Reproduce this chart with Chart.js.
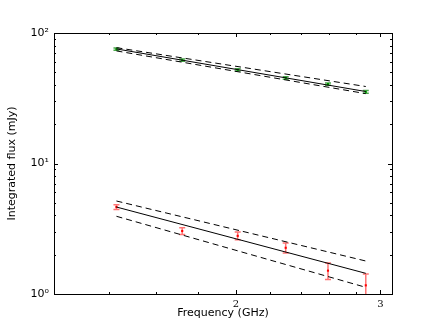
<!DOCTYPE html>
<html>
<head>
<meta charset="utf-8">
<script src="https://cdn.jsdelivr.net/npm/chart.js@4/dist/chart.umd.min.js"></script>
<style>
  html, body { margin: 0; padding: 0; background: #fff; }
  #wrap { width: 436px; height: 327px; }
</style>
</head>
<body>
<div id="wrap"><canvas id="myChart" width="436" height="327"></canvas></div>
<script>
// frequencies (GHz)
var freqs = [1.43, 1.72, 2.01, 2.30, 2.59, 2.88];

// upper source (green)
var fluxA = [75.1, 61.9, 52.2, 45.3, 40.6, 35.4];
var errA = [1.5, 1.2, 1.0, 1.0, 0.8, 0.8];
var fitA = [75.5, 35.6];
var fitAHigh = [77.2, 38.9];
var fitALow = [72.9, 34.3];

// lower source (red)
var fluxB = [4.64, 3.04, 2.79, 2.26, 1.51, 1.165];
var errB = [0.2, 0.18, 0.19, 0.2, 0.22, 0.26];
var fitB = [4.64, 1.44];
var fitBHigh = [5.16, 1.79];
var fitBLow = [3.94, 1.125];

var fitX = [1.43, 2.88];

// ticks
var xMajor = [2, 3];
var xMinor = [1.4, 1.6, 1.8, 2.2, 2.4, 2.6, 2.8];
var yMajor = [1, 10, 100];
var yMinor = [2, 3, 4, 5, 6, 7, 8, 9, 20, 30, 40, 50, 60, 70, 80, 90];
var yLabels = {1: '10\u2070', 10: '10\u00b9', 100: '10\u00b2'};

function pts(xs, ys) {
    var out = [];
    for (var i = 0; i < xs.length; i++) {
        out.push({x: xs[i], y: ys[i]});
    }
    return out;
}

function fitLine(ys, dashed) {
    return {
        data: pts(fitX, ys),
        showLine: true,
        borderColor: '#000',
        borderWidth: 1,
        borderDash: dashed ? [6, 4] : [],
        pointRadius: 0,
        fill: false
    };
}

// error bars + inward ticks + box, all from the chart scales
var extras = {
    id: 'extras',
    beforeDatasetsDraw: function (chart) {
        var ctx = chart.ctx, a = chart.chartArea;
        var xs = chart.scales.x, ys = chart.scales.y;
        ctx.save();
        ctx.beginPath();
        ctx.rect(a.left, a.top, a.right - a.left, a.bottom - a.top);
        ctx.clip();
        var sets = [[fluxA, errA, 'rgba(0,128,0,0.7)'], [fluxB, errB, 'rgba(255,0,0,0.55)']];
        sets.forEach(function (s) {
            ctx.strokeStyle = s[2];
            ctx.lineWidth = 1.5;
            for (var i = 0; i < freqs.length; i++) {
                var px = xs.getPixelForValue(freqs[i]);
                var top = ys.getPixelForValue(s[0][i] + s[1][i]);
                var bot = ys.getPixelForValue(s[0][i] - s[1][i]);
                ctx.beginPath();
                ctx.moveTo(px, top); ctx.lineTo(px, bot);
                ctx.moveTo(px - 3, top); ctx.lineTo(px + 3, top);
                ctx.moveTo(px - 3, bot); ctx.lineTo(px + 3, bot);
                ctx.stroke();
            }
        });
        ctx.restore();
    },
    afterDraw: function (chart) {
        var ctx = chart.ctx, a = chart.chartArea;
        var xs = chart.scales.x, ys = chart.scales.y;
        ctx.save();
        ctx.strokeStyle = '#000';
        ctx.lineWidth = 1;
        ctx.beginPath();
        xMajor.concat(xMinor).forEach(function (v) {
            var len = xMajor.indexOf(v) >= 0 ? 4 : 2;
            var px = Math.round(xs.getPixelForValue(v)) + 0.5;
            ctx.moveTo(px, a.bottom); ctx.lineTo(px, a.bottom - len);
            ctx.moveTo(px, a.top); ctx.lineTo(px, a.top + len);
        });
        yMajor.concat(yMinor).forEach(function (v) {
            var len = yMajor.indexOf(v) >= 0 ? 4 : 2;
            var py = Math.round(ys.getPixelForValue(v)) + 0.5;
            ctx.moveTo(a.left, py); ctx.lineTo(a.left + len, py);
            ctx.moveTo(a.right, py); ctx.lineTo(a.right - len, py);
        });
        ctx.stroke();
        ctx.strokeRect(Math.round(a.left) + 0.5, Math.round(a.top) + 0.5,
            Math.round(a.right - a.left), Math.round(a.bottom - a.top));
        ctx.restore();
    }
};

var ctx = document.getElementById('myChart');
var myChart = new Chart(ctx, {
    type: 'scatter',
    data: {
        datasets: [
            fitLine(fitA, false),
            fitLine(fitAHigh, true),
            fitLine(fitALow, true),
            fitLine(fitB, false),
            fitLine(fitBHigh, true),
            fitLine(fitBLow, true),
            {
                data: pts(freqs, fluxA),
                pointStyle: 'rect',
                pointRadius: 1.5,
                backgroundColor: '#00a000',
                borderColor: '#00a000',
                borderWidth: 0
            },
            {
                data: pts(freqs, fluxB),
                pointStyle: 'rect',
                pointRadius: 1.5,
                backgroundColor: '#ff0000',
                borderColor: '#ff0000',
                borderWidth: 0
            }
        ]
    },
    options: {
        responsive: false,
        animation: false,
        layout: { padding: { top: 33, right: 44, left: 0, bottom: 0 } },
        plugins: { legend: { display: false }, tooltip: { enabled: false } },
        scales: {
            x: {
                type: 'logarithmic',
                min: 1.2,
                max: 3.1,
                afterBuildTicks: function (scale) {
                    scale.ticks = xMajor.map(function (v) { return {value: v}; });
                },
                afterFit: function (scale) { scale.height = 33; },
                grid: { display: false, drawTicks: false },
                border: { display: false },
                ticks: {
                    autoSkip: false,
                    maxRotation: 0,
                    padding: 4,
                    color: '#000',
                    font: { family: 'DejaVu Serif', size: 10 },
                    callback: function (v) { return String(v); }
                },
                title: {
                    display: true,
                    text: 'Frequency (GHz)',
                    color: '#000',
                    font: { family: 'DejaVu Sans', size: 11 },
                    padding: { top: 0, bottom: 7 }
                }
            },
            y: {
                type: 'logarithmic',
                min: 1,
                max: 100,
                afterBuildTicks: function (scale) {
                    scale.ticks = yMajor.map(function (v) { return {value: v}; });
                },
                afterFit: function (scale) { scale.width = 54; },
                grid: { display: false, drawTicks: false },
                border: { display: false },
                ticks: {
                    autoSkip: false,
                    padding: 5,
                    color: '#000',
                    font: { family: 'DejaVu Sans', size: 11 },
                    callback: function (v) { return yLabels[v] || ''; }
                },
                title: {
                    display: true,
                    text: 'Integrated flux (mJy)',
                    color: '#000',
                    font: { family: 'DejaVu Sans', size: 11 },
                    padding: { top: 6, bottom: 0 }
                }
            }
        }
    },
    plugins: [extras]
});
</script>
</body>
</html>
